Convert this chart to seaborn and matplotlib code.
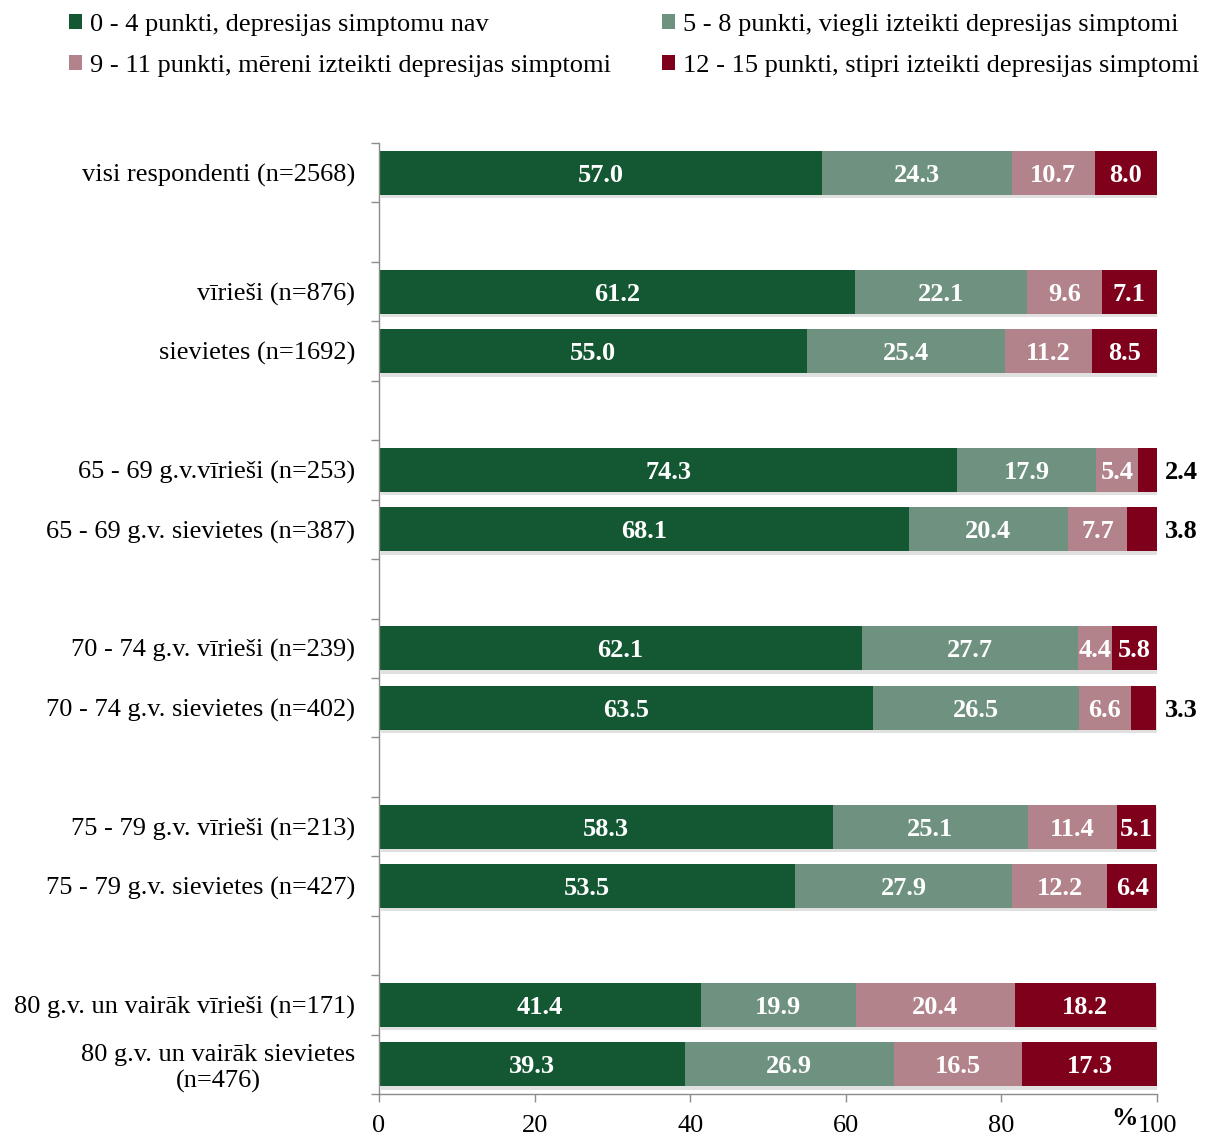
import matplotlib
matplotlib.use("Agg")
import matplotlib.pyplot as plt
import matplotlib.patheffects as pe
from matplotlib.patches import Patch
import numpy as np
import pandas as pd
import seaborn as sns

# Respondent groups (top to bottom) and their row slots; empty slots separate the groups
groups = [
    "visi respondenti (n=2568)",
    "vīrieši (n=876)",
    "sievietes (n=1692)",
    "65 - 69 g.v.vīrieši (n=253)",
    "65 - 69 g.v. sievietes (n=387)",
    "70 - 74 g.v. vīrieši (n=239)",
    "70 - 74 g.v. sievietes (n=402)",
    "75 - 79 g.v. vīrieši (n=213)",
    "75 - 79 g.v. sievietes (n=427)",
    "80 g.v. un vairāk vīrieši (n=171)",
    "80 g.v. un vairāk sievietes\n(n=476)",
]
slots = [0, 2, 3, 5, 6, 8, 9, 11, 12, 14, 15]

series_names = [
    "0 - 4 punkti, depresijas simptomu nav",
    "5 - 8 punkti, viegli izteikti depresijas simptomi",
    "9 - 11 punkti, mēreni izteikti depresijas simptomi",
    "12 - 15 punkti, stipri izteikti depresijas simptomi",
]
none_vals = [57.0, 61.2, 55.0, 74.3, 68.1, 62.1, 63.5, 58.3, 53.5, 41.4, 39.3]
mild_vals = [24.3, 22.1, 25.4, 17.9, 20.4, 27.7, 26.5, 25.1, 27.9, 19.9, 26.9]
moderate_vals = [10.7, 9.6, 11.2, 5.4, 7.7, 4.4, 6.6, 11.4, 12.2, 20.4, 16.5]
severe_vals = [8.0, 7.1, 8.5, 2.4, 3.8, 5.8, 3.3, 5.1, 6.4, 18.2, 17.3]

colors = ["#145833", "#6F917F", "#B2838A", "#7E001B"]

plt.rcParams["font.family"] = ["Liberation Serif", "DejaVu Serif"]
FS = 19

series = [none_vals, mild_vals, moderate_vals, severe_vals]
vals = np.array(series)
cum = np.cumsum(vals, axis=0)
starts = cum - vals

fig = plt.figure(figsize=(12.10, 11.38), dpi=100)
ax = fig.add_axes([0.3132, 0.0387, 0.6430, 0.8356])

shadow = [pe.SimplePatchShadow(offset=(1.5, -2.5), shadow_rgbFace="#000000", alpha=0.12), pe.Normal()]

# Stacked bars: draw cumulative totals from the outermost segment inwards
for k in range(3, -1, -1):
    df = pd.DataFrame({"pos": slots, "value": cum[k]})
    sns.barplot(data=df, x="value", y="pos", orient="y", native_scale=True,
                color=colors[k], saturation=1, width=0.74, errorbar=None,
                linewidth=0, ax=ax)
    if k == 3:
        # soft drop shadow under each full bar
        for p in ax.patches:
            p.set_path_effects(shadow)

# Segment value labels
outside = 4.0
for k in range(4):
    for i, pos in enumerate(slots):
        v = vals[k, i]
        if k == 3 and v < outside:
            ax.text(101.0, pos, f"{v:.1f}", ha="left", va="center_baseline",
                    fontsize=FS, fontweight="bold", color="black", clip_on=False)
        else:
            ax.text(starts[k, i] + v / 2, pos, f"{v:.1f}", ha="center", va="center_baseline",
                    fontsize=FS, fontweight="bold", color="white")

ax.set_xlim(0, 100)
ax.set_ylim(15.5, -0.5)
ax.set_xticks([0, 20, 40, 60, 80, 100])
ax.set_xticklabels(["0", "20", "40", "60", "80", "100"], fontsize=FS)
ax.set_yticks(slots)
ax.set_yticklabels(groups, fontsize=FS)
for lab in ax.get_yticklabels():
    lab.set_multialignment("center")
ax.set_yticks(np.arange(-0.5, 16.0, 1.0), minor=True)
ax.tick_params(axis="y", which="major", length=0, pad=17)
ax.tick_params(axis="y", which="minor", length=6, color="#8C8C8C", width=1)
ax.tick_params(axis="x", which="major", length=6, color="#8C8C8C", width=1, pad=9)
ax.set_xlabel("")
ax.set_ylabel("")
for side in ["top", "right"]:
    ax.spines[side].set_visible(False)
for side in ["left", "bottom"]:
    ax.spines[side].set_color("#8C8C8C")
    ax.spines[side].set_linewidth(1)

ax.text(0.9755, -0.014, "%", transform=ax.transAxes, ha="right", va="top",
        fontsize=FS, fontweight="bold")

# Legend in two columns above the chart
order = [0, 2, 1, 3]
handles = [Patch(facecolor=colors[i], edgecolor="none") for i in order]
labels = [series_names[i] for i in order]
fig.legend(handles, labels, loc="upper left", bbox_to_anchor=(0.037, 1.009), ncol=2,
           frameon=False, fontsize=FS, handlelength=0.5, handleheight=0.5,
           handletextpad=0.3, columnspacing=1.95, labelspacing=0.72)

fig.savefig("out.png", dpi=100)
